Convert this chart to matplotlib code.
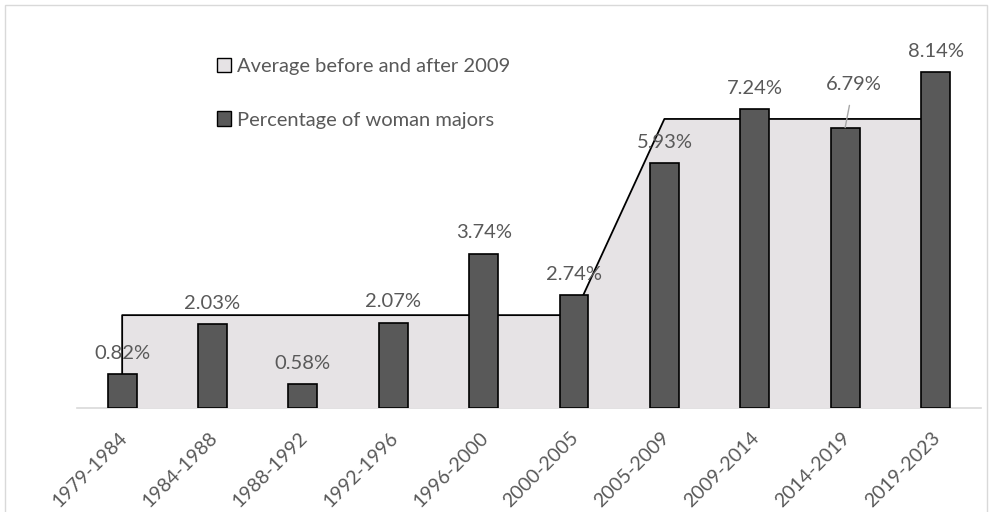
import matplotlib
matplotlib.use("Agg")
import matplotlib.pyplot as plt
import matplotlib.transforms as mtransforms
from matplotlib.patches import Patch, Rectangle
import numpy as np

plt.rcParams['font.family'] = ['Lato', 'DejaVu Sans']

periods = ['1979-1984', '1984-1988', '1988-1992', '1992-1996', '1996-2000',
           '2000-2005', '2005-2009', '2009-2014', '2014-2019', '2019-2023']
woman_pct = [0.82, 2.03, 0.58, 2.07, 3.74, 2.74, 5.93, 7.24, 6.79, 8.14]
# average share before / after 2009, one value per period
period_avg = [2.25, 2.25, 2.25, 2.25, 2.25, 2.25, 7.0, 7.0, 7.0, 7.0]

text_grey = '#595959'
bar_grey = '#595959'
area_grey = '#e6e3e5'
fs = 14.5

fig = plt.figure(figsize=(9.92, 5.12), dpi=100)
ax = fig.add_axes([0.0776, 0.203, 0.911, 0.726])

x = np.arange(len(periods))

# background area for the two averages
ax.fill_between(x, period_avg, color=area_grey, lw=0, zorder=1)
ax.plot(np.r_[x[0], x, x[-1]], np.r_[0, period_avg, 0], color='black', lw=1.3, zorder=2)

ax.bar(x, woman_pct, width=0.32, color=bar_grey, edgecolor='black', lw=1.2, zorder=3)

for i, v in enumerate(woman_pct):
    if periods[i] == '2014-2019':
        ax.annotate(f'{v:.2f}%', xy=(i, v), xytext=(6, 31), textcoords='offset points',
                    ha='center', va='center', fontsize=fs, color=text_grey,
                    arrowprops=dict(arrowstyle='-', color='#a6a6a6', lw=1, shrinkA=7, shrinkB=0))
    else:
        ax.annotate(f'{v:.2f}%', xy=(i, v), xytext=(0, 15), textcoords='offset points',
                    ha='center', va='center', fontsize=fs, color=text_grey)

ax.set_xlim(-0.5, len(periods) - 0.5)
ax.set_ylim(0, 9)
ax.set_yticks([])
ax.set_xticks(x)
ax.set_xticklabels(periods, rotation=45, ha='right', va='top', rotation_mode='anchor',
                   fontsize=14, color=text_grey)
ax.tick_params(axis='x', length=0, pad=15)
shift = mtransforms.ScaledTranslation(-4 / 100, 0, fig.dpi_scale_trans)
for lbl in ax.get_xticklabels():
    lbl.set_transform(lbl.get_transform() + shift)
for side in ['left', 'right', 'top']:
    ax.spines[side].set_visible(False)
ax.spines['bottom'].set_color('#d9d9d9')
ax.spines['bottom'].set_linewidth(1.2)
ax.spines['bottom'].set_zorder(0.5)

handles = [Patch(facecolor=area_grey, edgecolor='black', lw=1),
           Patch(facecolor=bar_grey, edgecolor='black', lw=1)]
fig.legend(handles, ['Average before and after 2009', 'Percentage of woman majors'],
           loc='upper left', bbox_to_anchor=(0.200, 0.922), frameon=False,
           fontsize=fs, labelcolor=text_grey, handlelength=0.7, handleheight=0.7,
           handletextpad=0.3, labelspacing=1.8)

# chart frame
fig.patches.append(Rectangle((0.005, -0.05), 0.99, 1.04, transform=fig.transFigure,
                             fill=False, edgecolor='#d9d9d9', lw=1))

fig.savefig('out.png', dpi=100)
